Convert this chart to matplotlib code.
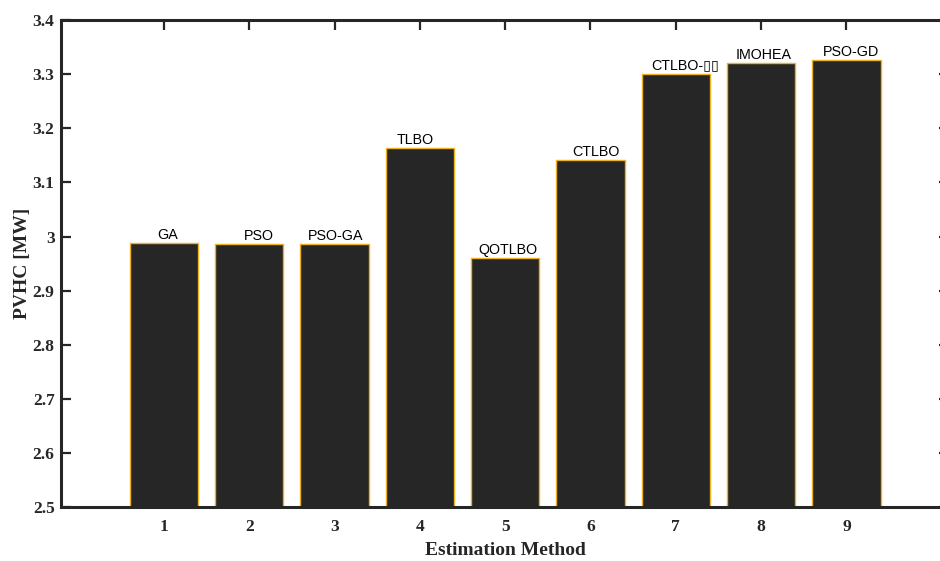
import matplotlib
matplotlib.use("Agg")
import matplotlib.pyplot as plt

# data
methods = [1, 2, 3, 4, 5, 6, 7, 8, 9]
names = ["GA", "PSO", "PSO-GA", "TLBO", "QOTLBO", "CTLBO", "CTLBO-\u25af\u25af", "IMOHEA", "PSO-GD"]
pvhc = [2.988, 2.987, 2.987, 3.163, 2.960, 3.141, 3.301, 3.320, 3.326]
yticks = [2.5, 2.6, 2.7, 2.8, 2.9, 3.0, 3.1, 3.2, 3.3, 3.4]
ytick_labels = ["2.5", "2.6", "2.7", "2.8", "2.9", "3", "3.1", "3.2", "3.3", "3.4"]

# small horizontal nudges (points) of the name labels, as placed in the original
label_dx = [3, 7, 1, -3, 2, 4, 7, 2, 3]

dark = "#262626"
edge = "#EDB120"

fig = plt.figure(figsize=(9.4, 5.61), dpi=100)
ax = fig.add_axes([0.0654, 0.0954, 0.944, 0.869])

ax.bar(methods, pvhc, width=0.8, color=dark, edgecolor=edge, linewidth=1.0, zorder=2)

for x, y, name, dx in zip(methods, pvhc, names, label_dx):
    ax.annotate(name, (x, y), xytext=(dx, 3), textcoords="offset points",
                ha="center", va="baseline", fontsize=10.3,
                family=["Liberation Sans", "DejaVu Sans"], color="black")

ax.set_xlim(-0.2, 10.2)
ax.set_ylim(2.5, 3.4)
ax.set_xticks(methods)
ax.set_yticks(yticks)
ax.set_yticklabels(ytick_labels)

for s in ax.spines.values():
    s.set_linewidth(2.2)
    s.set_color(dark)
    s.set_zorder(3)

ax.tick_params(direction="in", length=7, width=1.6, color=dark,
               top=True, right=True, labelcolor=dark, labelsize=12.5)
ax.tick_params(axis="x", pad=8)
ax.tick_params(axis="y", pad=5)
for lab in ax.get_xticklabels() + ax.get_yticklabels():
    lab.set_fontfamily("Liberation Serif")
    lab.set_fontweight("bold")

ax.set_xlabel("Estimation Method", family="Liberation Serif", fontweight="bold",
              fontsize=14, color=dark, labelpad=5)
ax.set_ylabel("PVHC [MW]", family="Liberation Serif", fontweight="bold",
              fontsize=14, color=dark, labelpad=1)

fig.savefig("out.png", dpi=100)
